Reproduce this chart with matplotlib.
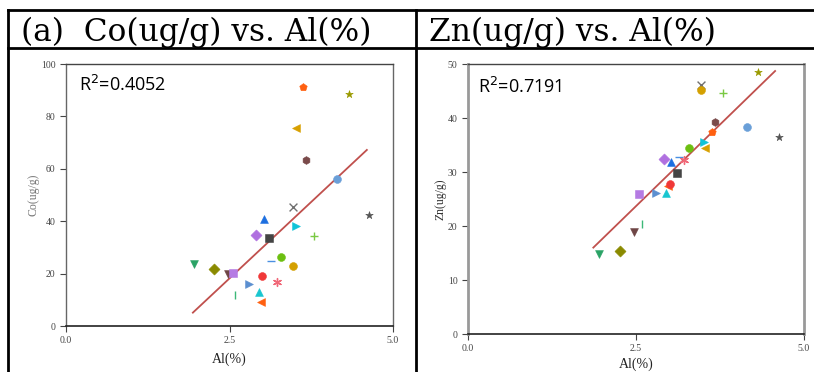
import matplotlib
matplotlib.use("Agg")
import matplotlib.pyplot as plt
from matplotlib.lines import Line2D

# ---- data ----
al = [1.95, 2.26, 2.47, 2.55, 2.59, 2.80, 2.91, 2.95, 2.98, 3.00, 3.02, 3.11, 3.14,
      3.22, 3.29, 3.47, 3.47, 3.51, 3.52, 3.63, 3.67, 3.79, 4.15, 4.32, 4.63]
co = [23.7, 21.8, 19.7, 20.3, 11.8, 16.2, 34.6, 12.9, 9.3, 19.2, 41.0, 33.6, 24.8,
      16.9, 26.2, 45.3, 23.0, 38.2, 75.7, 91.1, 63.2, 34.5, 56.2, 88.5, 42.2]
zn = [14.8, 15.4, 18.8, 25.9, 20.4, 26.2, 32.4, 26.2, 27.5, 27.8, 31.8, 29.9, 32.7,
      32.2, 34.4, 46.1, 45.2, 35.5, 34.4, 37.4, 39.3, 44.6, 38.3, 48.5, 36.4]
markers = ['v', 'D', 'v', 's', '|', '>', 'D', '^', '<', 'o', '^', 's', '_',
           (6, 2, 0), 'o', 'x', 'o', '>', '<', 'p', 'h', '+', 'o', '*', '*']
colors = ['#2aa366', '#8a8a00', '#6e4545', '#b57be3', '#3cb878', '#5b8fd0', '#b070e0',
          '#19c6d0', '#ff6010', '#f03838', '#1d6fe0', '#444444', '#4a90e2', '#f06878',
          '#6cbf10', '#707070', '#d4a000', '#10c4d8', '#d8a000', '#ff6010', '#7a4a4a',
          '#7ac943', '#6a9fd8', '#9a9a00', '#555555']
co_fit_x = [1.94, 4.60]
co_fit_y = [5.1, 67.2]
zn_fit_x = [1.865, 4.57]
zn_fit_y = [16.0, 48.7]
co_r2 = "0.4052"
zn_r2 = "0.7191"
x_ticks = [0.0, 2.5, 5.0]
co_ticks = [0, 20, 40, 60, 80, 100]
zn_ticks = [0, 10, 20, 30, 40, 50]

W, H = 814, 372
fig = plt.figure(figsize=(W / 100, H / 100), dpi=100)
fig.patch.set_facecolor('white')

def fx(px):
    return px / W

def fy(py):
    return 1 - py / H

# table lines
lw = 2.0
fig.add_artist(Line2D([fx(8), fx(814)], [fy(9.5), fy(9.5)], color='black', lw=lw))
fig.add_artist(Line2D([fx(8), fx(814)], [fy(48), fy(48)], color='black', lw=lw))
fig.add_artist(Line2D([fx(8), fx(8)], [fy(9.5), fy(372)], color='black', lw=lw))
fig.add_artist(Line2D([fx(415.5), fx(415.5)], [fy(9.5), fy(372)], color='black', lw=lw))

serif = ['Liberation Serif', 'DejaVu Serif']
head_font = ['DejaVu Serif']
fig.text(fx(21), fy(41), "(a)  Co(ug/g) vs. Al(%)", family=head_font, fontsize=22.5,
         ha='left', va='baseline', color='black')
fig.text(fx(429), fy(41), "Zn(ug/g) vs. Al(%)", family=head_font, fontsize=22.5,
         ha='left', va='baseline', color='black')


def make_panel(rect, yvals, fx_, fy_, r2, yticks, ymax, ylabel, r2pos, side_lw, side_col,
               ylab_col, xlab_pad, ylab_pad):
    ax = fig.add_axes(rect)
    ax.set_xlim(0, 5)
    ax.set_ylim(0, ymax)
    for xi, yi, m, c in zip(al, yvals, markers, colors):
        ax.scatter([xi], [yi], marker=m, s=32, color=c,
                   linewidths=1.0 if m in ('|', '_', '+', 'x', (6, 2, 0)) else 0.4,
                   zorder=3)
    ax.plot(fx_, fy_, color='#c0504d', lw=1.3, zorder=2)
    ax.set_xticks(x_ticks)
    ax.set_xticklabels([f"{t:.1f}" for t in x_ticks])
    ax.set_yticks(yticks)
    ax.tick_params(labelsize=7, colors='#444444', length=4, width=0.8,
                   labelcolor='#444444')
    for lab in ax.get_xticklabels() + ax.get_yticklabels():
        lab.set_family(serif)
    ax.spines['bottom'].set_color('#222222')
    ax.spines['bottom'].set_linewidth(1.2)
    ax.spines['top'].set_color('#444444')
    ax.spines['top'].set_linewidth(1.0)
    ax.spines['left'].set_color(side_col)
    ax.spines['left'].set_linewidth(side_lw)
    ax.spines['right'].set_color(side_col)
    ax.spines['right'].set_linewidth(side_lw)
    ax.text(r2pos[0], r2pos[1], "R$^2$=" + r2, transform=ax.transAxes,
            family=['Open Sans', 'DejaVu Sans'], fontsize=13, ha='left', va='center',
            color='black')
    ax.set_xlabel("Al(%)", family=serif, fontsize=10, color='#222222', labelpad=xlab_pad)
    ax.set_ylabel(ylabel, family=serif, fontsize=8.5, color=ylab_col, labelpad=ylab_pad)
    return ax


make_panel([fx(66), fy(326), (393 - 66) / W, (326 - 64) / H], co, co_fit_x, co_fit_y,
           co_r2, co_ticks, 100, "Co(ug/g)", (0.04, 0.92), 1.0, '#666666', '#777777', 5, 1)
make_panel([fx(468), fy(334), (804 - 468) / W, (334 - 64) / H], zn, zn_fit_x, zn_fit_y,
           zn_r2, zn_ticks, 50, "Zn(ug/g)", (0.03, 0.915), 2.0, '#999999', '#333333', 3, 1)

fig.savefig("out.png", dpi=100, facecolor='white')
